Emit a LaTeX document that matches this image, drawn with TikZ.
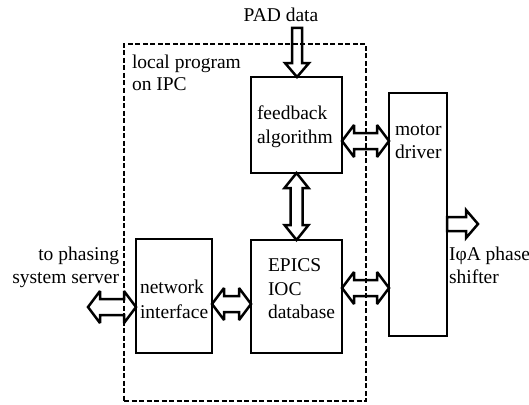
\documentclass[tikz,border=0pt]{standalone}
\usepackage{fontspec}
\setmainfont{Liberation Serif}
\usetikzlibrary{calc}
\tikzset{
  box/.style={draw, line width=1.6pt, inner sep=0pt, outer sep=0pt},
  dashbox/.style={draw, line width=1.6pt, dash pattern=on 5pt off 2.5pt, inner sep=0pt, outer sep=0pt},
  barrow/.style={draw, line width=2.5pt, line join=miter, miter limit=3},
  lbl/.style={font=\fontsize{19.5}{23}\selectfont, inner sep=0pt, outer sep=0pt},
}
% double horizontal block arrow: #1 left pt, #2 right pt, #3 half shaft, #4 half head, #5 head length
\newcommand\dblH[5]{%
  \draw[barrow] let \p1=(#1), \p2=(#2) in
  (\x1,\y1) -- (\x1+#5,\y1+#4) -- (\x1+#5,\y1+#3) -- (\x2-#5,\y1+#3) -- (\x2-#5,\y1+#4)
  -- (\x2,\y1) -- (\x2-#5,\y1-#4) -- (\x2-#5,\y1-#3) -- (\x1+#5,\y1-#3) -- (\x1+#5,\y1-#4) -- cycle;}
% double vertical block arrow: #1 top pt, #2 bottom pt
\newcommand\dblV[5]{%
  \draw[barrow] let \p1=(#1), \p2=(#2) in
  (\x1,\y1) -- (\x1+#4,\y1-#5) -- (\x1+#3,\y1-#5) -- (\x1+#3,\y2+#5) -- (\x1+#4,\y2+#5)
  -- (\x1,\y2) -- (\x1-#4,\y2+#5) -- (\x1-#3,\y2+#5) -- (\x1-#3,\y1-#5) -- (\x1-#4,\y1-#5) -- cycle;}
% single down arrow
\newcommand\sglD[5]{%
  \draw[barrow] let \p1=(#1), \p2=(#2) in
  (\x1-#3,\y1) -- (\x1+#3,\y1) -- (\x1+#3,\y2+#5) -- (\x1+#4,\y2+#5) -- (\x1,\y2)
  -- (\x1-#4,\y2+#5) -- (\x1-#3,\y2+#5) -- cycle;}
% single right arrow
\newcommand\sglR[5]{%
  \draw[barrow] let \p1=(#1), \p2=(#2) in
  (\x1,\y1+#3) -- (\x2-#5,\y1+#3) -- (\x2-#5,\y1+#4) -- (\x2,\y1) -- (\x2-#5,\y1-#4)
  -- (\x2-#5,\y1-#3) -- (\x1,\y1-#3) -- cycle;}
\begin{document}
\begin{tikzpicture}[x=1pt,y=-1pt]
\useasboundingbox (0,0) rectangle (529,404);
% boxes
\node[dashbox, minimum width=242pt, minimum height=357pt] (ipc) at (245,222.5) {};
\node[box, minimum width=91pt, minimum height=96pt] (fb) at (296.5,125) {};
\node[box, minimum width=91pt, minimum height=113pt] (epics) at (296.5,296.5) {};
\node[box, minimum width=76pt, minimum height=114pt] (net) at (174,296) {};
\node[box, minimum width=58pt, minimum height=243pt] (motor) at (418,214.5) {};
% texts
\node[lbl, anchor=base] (pad) at (281,22) {PAD data};
\node[lbl, anchor=base west] (ipct1) at (132,68) {local program};
\node[lbl, anchor=base west] (ipct2) at (132,90) {on IPC};
\node[lbl, anchor=base west] (fbt1) at (257,119) {feedback};
\node[lbl, anchor=base west] (fbt2) at (257,143) {algorithm};
\node[lbl, anchor=base west] (ept1) at (268,271) {EPICS};
\node[lbl, anchor=base west] (ept2) at (268,295) {IOC};
\node[lbl, anchor=base west] (ept3) at (268,318) {database};
\node[lbl, anchor=base west] (nett1) at (140,293) {network};
\node[lbl, anchor=base west] (nett2) at (140,318) {interface};
\node[lbl, anchor=base west] (mdt1) at (395,135) {motor};
\node[lbl, anchor=base west] (mdt2) at (395,158) {driver};
\node[lbl, anchor=base east] (srvt1) at (119,260) {to phasing};
\node[lbl, anchor=base east] (srvt2) at (119,283) {system server};
\node[lbl, anchor=base west] (sht1) at (449,260) {IφA phase};
\node[lbl, anchor=base west] (sht2) at (449,283) {shifter};
% coordinates for free ends
\coordinate (padtop) at (297,28);
\coordinate (srv) at (88,307);
\coordinate (shout) at (478,224);
% block arrows
\sglD{padtop}{fb.north}{5pt}{12pt}{14pt}
\dblV{fb.south}{epics.north}{6pt}{12pt}{15pt}
\dblH{fb.east |- 0,141}{motor.west |- 0,141}{8pt}{16pt}{12pt}
\dblH{epics.east |- 0,288}{motor.west |- 0,288}{8pt}{16pt}{12pt}
\dblH{net.east |- 0,304}{epics.west |- 0,304}{8pt}{16pt}{12pt}
\dblH{srv}{net.west |- srv}{8pt}{16pt}{12pt}
\sglR{motor.east |- shout}{shout}{7pt}{14pt}{12pt}
\end{tikzpicture}
\end{document}
